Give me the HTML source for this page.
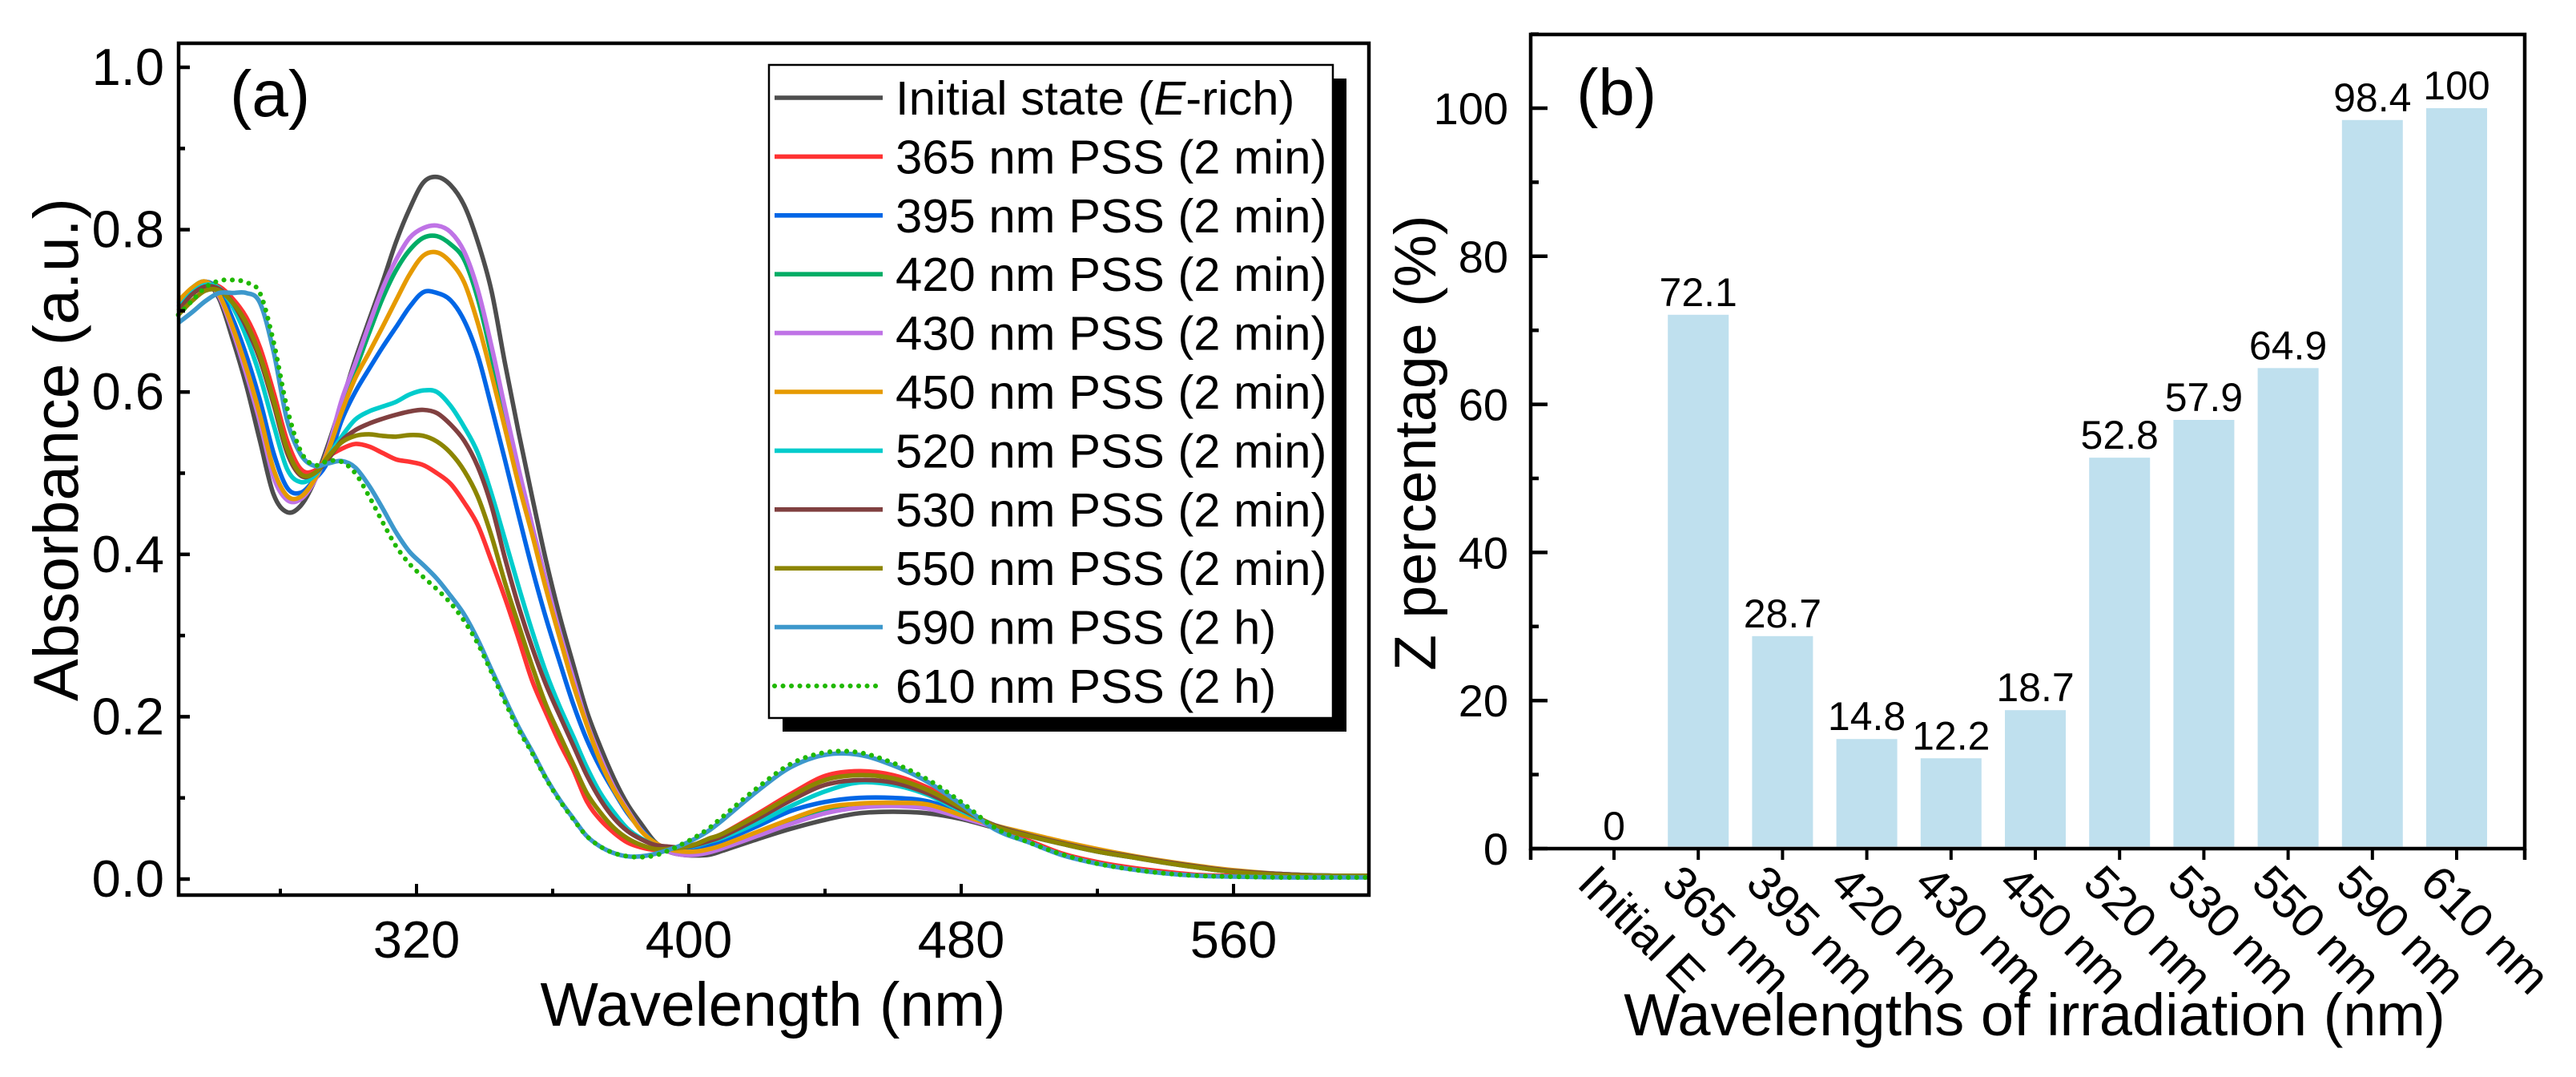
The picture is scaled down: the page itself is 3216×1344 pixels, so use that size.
<!DOCTYPE html>
<html lang="en">
<head>
<meta charset="utf-8">
<title>Absorbance spectra and Z percentage</title>
<style>
html,body{margin:0;padding:0;background:#fff;}
svg{display:block;font-family:"Liberation Sans",Arial,sans-serif;fill:#000;}
</style>
</head>
<body>
<svg id="fig" xmlns="http://www.w3.org/2000/svg" width="3216" height="1344" viewBox="0 0 3216 1344">
  <rect width="3216" height="1344" fill="#fff"/>
  <g id="panelA">
    <g id="curves"></g>
    <rect x="223" y="54" width="1486" height="1063" fill="none" stroke="#000" stroke-width="4.5"/>
    <g id="axesA"></g>
    <text x="287" y="145" font-size="82">(a)</text>
    <text x="965" y="1280" font-size="76.7" text-anchor="middle">Wavelength (nm)</text>
    <text transform="translate(97,875) rotate(-90)" font-size="79">Absorbance (a.u.)</text>
    <g id="legend">
      <rect x="977" y="98" width="704" height="815" fill="#000"/>
      <rect x="960" y="81" width="704" height="815" fill="#fff" stroke="#000" stroke-width="2.5"/>
    </g>
  </g>
  <g id="panelB">
    <g id="bars"></g>
    <rect x="1911" y="43" width="1241" height="1016" fill="none" stroke="#000" stroke-width="4.5"/>
    <g id="axesB"></g>
    <text x="1968" y="143" font-size="82">(b)</text>
    <text x="2540" y="1292" font-size="74" text-anchor="middle">Wavelengths of irradiation (nm)</text>
    <text transform="translate(1792,837) rotate(-90)" font-size="73.6">Z percentage (%)</text>
  </g>
</svg>
<script>
// ---- Panel (a) data ----
const wavelengths = [250,254,258,262,266,270,274,278,282,286,290,294,298,302,306,310,314,318,322,326,330,334,338,342,346,350,354,358,362,366,370,374,378,382,386,390,394,398,402,406,410,420,430,440,450,460,470,480,490,500,510,520,530,540,550,560,575,590,600];
const initialState = [.705,.725,.735,.715,.665,.608,.54,.474,.452,.46,.49,.535,.587,.64,.688,.735,.785,.826,.858,.865,.855,.83,.785,.725,.635,.55,.47,.393,.325,.265,.207,.163,.124,.092,.068,.046,.034,.03,.029,.03,.035,.049,.062,.073,.081,.083,.081,.074,.063,.053,.043,.034,.027,.021,.014,.009,.005,.004,.004];
const pss365 = [.705,.722,.733,.73,.715,.692,.655,.60,.54,.505,.503,.52,.53,.536,.533,.525,.517,.514,.51,.50,.487,.464,.436,.392,.346,.296,.244,.205,.168,.135,.096,.073,.057,.045,.039,.036,.037,.039,.043,.05,.056,.08,.105,.127,.133,.128,.113,.09,.062,.047,.031,.021,.014,.009,.005,.004,.003,.003,.003];
const pss395 = [.708,.727,.736,.725,.69,.645,.59,.525,.482,.476,.492,.515,.565,.60,.628,.655,.68,.705,.723,.722,.713,.688,.645,.582,.516,.448,.382,.322,.268,.216,.172,.137,.108,.081,.061,.045,.036,.035,.037,.042,.047,.065,.084,.095,.10,.10,.096,.082,.066,.053,.043,.034,.027,.02,.014,.009,.005,.004,.004];
const pss420 = [.71,.728,.736,.72,.678,.626,.566,.498,.469,.47,.491,.528,.585,.627,.672,.715,.75,.775,.79,.792,.782,.763,.715,.645,.568,.493,.43,.363,.30,.243,.191,.147,.111,.084,.06,.045,.036,.032,.032,.035,.04,.056,.072,.085,.091,.092,.09,.078,.065,.054,.044,.035,.028,.021,.015,.01,.006,.004,.004];
const pss430 = [.705,.726,.736,.718,.675,.622,.563,.495,.467,.468,.49,.53,.59,.635,.682,.727,.763,.79,.802,.805,.797,.773,.726,.657,.58,.505,.435,.368,.305,.248,.193,.15,.113,.085,.06,.044,.034,.03,.03,.033,.038,.053,.068,.081,.088,.09,.087,.076,.064,.054,.045,.036,.028,.021,.015,.01,.006,.004,.004];
const pss450 = [.712,.728,.736,.72,.68,.63,.572,.505,.472,.471,.492,.527,.575,.617,.648,.68,.713,.745,.768,.772,.76,.735,.685,.622,.555,.486,.424,.358,.298,.24,.19,.145,.11,.083,.059,.045,.037,.034,.034,.037,.042,.058,.074,.088,.093,.094,.092,.079,.066,.056,.046,.037,.029,.022,.016,.011,.006,.004,.004];
const pss520 = [.703,.722,.732,.728,.705,.668,.62,.56,.505,.489,.497,.52,.545,.566,.576,.582,.588,.597,.602,.60,.583,.557,.525,.475,.418,.36,.305,.255,.213,.176,.138,.106,.082,.062,.05,.042,.039,.039,.041,.046,.051,.069,.09,.108,.119,.116,.104,.084,.066,.054,.044,.035,.028,.021,.015,.01,.006,.004,.004];
const pss530 = [.70,.72,.73,.727,.71,.68,.64,.585,.525,.497,.50,.517,.54,.553,.561,.567,.572,.576,.578,.574,.56,.54,.508,.46,.395,.336,.285,.24,.202,.165,.128,.098,.075,.059,.049,.042,.04,.039,.042,.047,.053,.074,.097,.116,.122,.119,.106,.086,.066,.054,.044,.035,.028,.021,.015,.01,.006,.004,.004];
const pss550 = [.695,.712,.725,.725,.71,.685,.645,.59,.53,.499,.50,.52,.538,.546,.548,.546,.545,.547,.546,.539,.525,.503,.471,.423,.365,.313,.262,.215,.178,.142,.106,.082,.063,.05,.042,.037,.037,.039,.043,.05,.056,.078,.102,.122,.128,.124,.11,.088,.065,.053,.043,.034,.027,.02,.014,.009,.005,.004,.004];
const pss590 = [.685,.698,.712,.722,.722,.722,.71,.65,.565,.523,.509,.512,.515,.507,.485,.457,.427,.403,.387,.37,.349,.326,.295,.258,.222,.187,.157,.125,.098,.075,.053,.04,.032,.028,.028,.031,.036,.042,.05,.06,.073,.108,.138,.153,.153,.14,.12,.092,.061,.045,.029,.019,.012,.007,.004,.003,.002,.002,.002];
const pss610 = [.695,.712,.729,.737,.738,.735,.722,.662,.58,.527,.51,.515,.514,.50,.472,.44,.41,.388,.372,.357,.34,.318,.29,.255,.218,.184,.155,.124,.097,.074,.053,.04,.032,.028,.027,.029,.035,.043,.052,.063,.077,.112,.142,.156,.156,.143,.123,.095,.063,.045,.03,.019,.012,.007,.004,.003,.002,.002,.002];
const seriesLabels = ["365 nm PSS (2 min)","395 nm PSS (2 min)","420 nm PSS (2 min)","430 nm PSS (2 min)","450 nm PSS (2 min)","520 nm PSS (2 min)","530 nm PSS (2 min)","550 nm PSS (2 min)","590 nm PSS (2 h)","610 nm PSS (2 h)"];
const spectraXMajorTicks = [320,400,480,560];
const spectraXMinorTicks = [280,360,440,520];
const spectraYMajorTicks = [0,0.2,0.4,0.6,0.8,1.0];
const spectraYMinorTicks = [0.1,0.3,0.5,0.7,0.9];

// ---- Panel (b) data ----
const barCategories = ["Initial E","365 nm","395 nm","420 nm","430 nm","450 nm","520 nm","530 nm","550 nm","590 nm","610 nm"];
const barValues = [0,72.1,28.7,14.8,12.2,18.7,52.8,57.9,64.9,98.4,100];
const percentMajorTicks = [0,20,40,60,80,100];
const percentMinorTicks = [10,30,50,70,90,110];

const NS = "http://www.w3.org/2000/svg";
function mk(tag, parent, attrs, txt){
  const e = document.createElementNS(NS, tag);
  for (const k in attrs) e.setAttribute(k, attrs[k]);
  if (txt !== undefined) e.textContent = txt;
  parent.appendChild(e);
  return e;
}
// axis functions
const xA = nm => 520 + (nm - 320) * 4.25;
const yA = v => 1097 - v * 1013;
const xB = i => 2015 + i * 105.2;
const yB = v => 1059 - v * 9.24;

function smoothPath(xs, ys){
  const p = xs.map((x,i)=>[xA(x), yA(ys[i])]);
  let d = "M" + p[0][0].toFixed(1) + " " + p[0][1].toFixed(1);
  for (let i=0;i<p.length-1;i++){
    const p0=p[Math.max(i-1,0)],p1=p[i],p2=p[i+1],p3=p[Math.min(i+2,p.length-1)];
    const c1x=p1[0]+(p2[0]-p0[0])/6,c1y=p1[1]+(p2[1]-p0[1])/6;
    const c2x=p2[0]-(p3[0]-p1[0])/6,c2y=p2[1]-(p3[1]-p1[1])/6;
    d+="C"+c1x.toFixed(1)+" "+c1y.toFixed(1)+" "+c2x.toFixed(1)+" "+c2y.toFixed(1)+" "+p2[0].toFixed(1)+" "+p2[1].toFixed(1);
  }
  return d;
}

const curvesG = document.getElementById("curves");
const legendG = document.getElementById("legend");
const axesA = document.getElementById("axesA");
const axesB = document.getElementById("axesB");
const barsG = document.getElementById("bars");

const allSeries = [initialState,pss365,pss395,pss420,pss430,pss450,pss520,pss530,pss550,pss590,pss610];
const allColors = ["#4d4d4d","#ff3333","#0066e6","#00ad66","#bf73e6","#e69a00","#00cccc","#804040","#8c8500","#3d98cc","#1fb800"];

allSeries.forEach((vals,i)=>{
  const dotted = i === 10;
  const attrs = {d:smoothPath(wavelengths,vals),fill:"none",stroke:allColors[i],"stroke-width":dotted?6:5.6,"stroke-linejoin":"round"};
  if (dotted){ attrs["stroke-dasharray"]="0.1 10.4"; attrs["stroke-linecap"]="round"; }
  const path = mk("path",curvesG,attrs);
  
  

  const rowY = 122 + i * 73.4;
  const swatchAttrs = {x1:967,x2:1102,y1:rowY,y2:rowY,stroke:allColors[i],"stroke-width":dotted?6:5.6};
  if (dotted){ swatchAttrs["stroke-dasharray"]="0.1 10.4"; swatchAttrs["stroke-linecap"]="round"; }
  const swatch = mk("line",legendG,swatchAttrs);
  
  

  const label = mk("text",legendG,{x:1118,y:rowY+21,"font-size":59.8});
  
  
  if (i === 0){
    label.appendChild(document.createTextNode("Initial state ("));
    const em = mk("tspan",label,{"font-style":"italic"},"E");
    
    
    label.appendChild(document.createTextNode("-rich)"));
  } else {
    label.textContent = seriesLabels[i-1];
  }
});

// Panel a ticks
function tick(parent,x1,y1,x2,y2,w){
  const t = mk("line",parent,{x1,y1,x2,y2,stroke:"#000","stroke-width":w});
  
  
}
spectraXMajorTicks.forEach(v=>{
  tick(axesA,xA(v),1117,xA(v),1103,4);
  const t = mk("text",axesA,{x:xA(v),y:1195,"font-size":65,"text-anchor":"middle"},String(v));
  
  
});
spectraXMinorTicks.forEach(v=>tick(axesA,xA(v),1117,xA(v),1109,4));
spectraYMajorTicks.forEach(v=>{
  tick(axesA,223,yA(v),237,yA(v),4.5);
  const t = mk("text",axesA,{x:205,y:yA(v)+22,"font-size":65,"text-anchor":"end"},v.toFixed(1));
  
  
});
spectraYMinorTicks.forEach(v=>tick(axesA,223,yA(v),231,yA(v),4.5));

// Panel b bars
barValues.forEach((v,i)=>{
  const bw = 76;
  if (v > 0){
    const r = mk("rect",barsG,{x:xB(i)-bw/2,y:yB(v),width:bw,height:Math.max(0,1056.5-yB(v)),fill:"#bfe0ee"});
    
    
  }
  const t = mk("text",barsG,{x:xB(i),y:yB(v)-11,"font-size":50,"text-anchor":"middle"},String(v));
  
  
});
barCategories.forEach((c,i)=>{
  tick(axesB,xB(i),1059,xB(i),1073,4);
  const px = xB(i) - 48, py = 1105;
  const t = mk("text",axesB,{transform:"translate("+px+","+py+") rotate(45)","font-size":59},c);
  
  
});
tick(axesB,1911,1059,1911,1073,4.5);
tick(axesB,3152,1059,3152,1073,4.5);
percentMajorTicks.forEach(v=>{
  tick(axesB,1911,yB(v),1932,yB(v),4.5);
  const t = mk("text",axesB,{x:1883,y:yB(v)+20,"font-size":56,"text-anchor":"end"},String(v));
  
  
});
percentMinorTicks.forEach(v=>tick(axesB,1911,yB(v),1921,yB(v),4.5));
</script>
</body>
</html>
